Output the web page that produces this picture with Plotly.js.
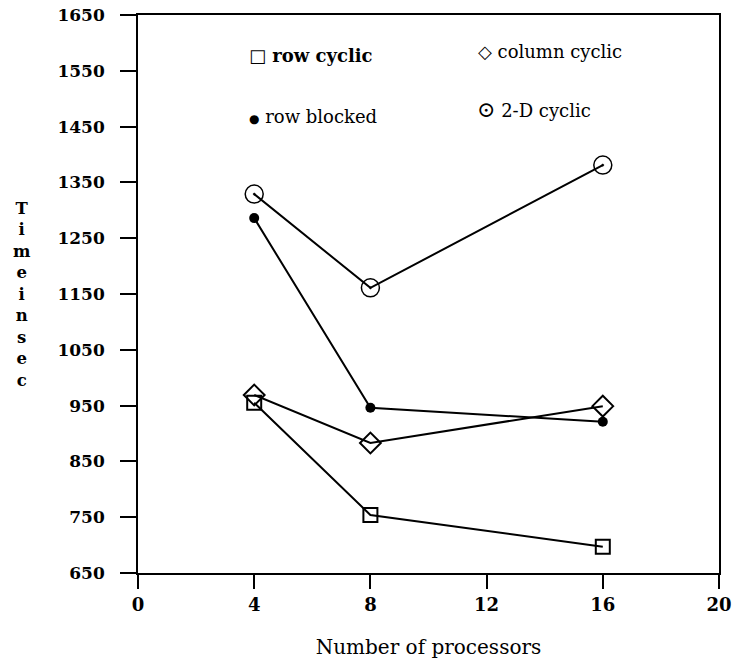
<!DOCTYPE html>
<html>
<head>
<meta charset="utf-8">
<script src="https://cdn.plot.ly/plotly-3.0.1.min.js"></script>
<style>html,body{margin:0;padding:0;background:#fff;}#chart{width:734px;height:661px;}</style>
</head>
<body>
<div id="chart"></div>
<script>
const processors = [4, 8, 16];
const rowCyclic = [955, 754, 697];
const columnCyclic = [969, 883, 949];
const rowBlocked = [1286, 946, 921];
const twoDCyclic = [1329, 1161, 1381];
const xTicks = [0, 4, 8, 12, 16, 20];
const yTicks = [650, 750, 850, 950, 1050, 1150, 1250, 1350, 1450, 1550, 1650];
const legendLabels = ['row cyclic', 'column cyclic', 'row blocked', '2-D cyclic'];

const serif = '"DejaVu Serif", "Liberation Serif", serif';
const lineStyle = {color: '#000', width: 2};

function tr(name, y, marker) {
  return {
    x: processors, y: y, name: name, mode: 'lines+markers', type: 'scatter',
    line: lineStyle, marker: marker, showlegend: false, cliponaxis: false
  };
}

const data = [
  tr(legendLabels[0], rowCyclic, {symbol: 'square-open', size: 14, color: '#000', line: {width: 2}}),
  tr(legendLabels[1], columnCyclic, {symbol: 'diamond-open', size: 16, color: '#000', line: {width: 2}}),
  tr(legendLabels[2], rowBlocked, {symbol: 'circle', size: 10, color: '#000'}),
  tr(legendLabels[3], twoDCyclic, {symbol: 'circle-open-dot', size: 18, color: '#000', line: {width: 1.5}})
];

const titleLetters = 'Time in sec'.replace(/ /g, '').split('').join('<br>');

const layout = {
  width: 734, height: 661,
  margin: {l: 138, r: 15, t: 15, b: 88},
  paper_bgcolor: '#fff', plot_bgcolor: '#fff',
  showlegend: false,
  xaxis: {
    range: [0, 20], tickvals: xTicks, ticktext: xTicks.map(String),
    showgrid: false, zeroline: false, showline: true, linecolor: '#000', linewidth: 2,
    mirror: true, ticks: 'outside', ticklen: 14, tickwidth: 2, tickcolor: '#000',
    tickfont: {family: serif, size: 18, color: '#000', weight: 'bold'},
    title: {text: 'Number of processors', font: {family: serif, size: 20, color: '#000'}, standoff: 26}
  },
  yaxis: {
    range: [650, 1650], tickvals: yTicks, ticktext: yTicks.map(v => v + '\u00a0\u00a0'),
    showgrid: false, zeroline: false, showline: true, linecolor: '#000', linewidth: 2,
    mirror: true, ticks: 'outside', ticklen: 16, tickwidth: 2, tickcolor: '#000',
    tickfont: {family: serif, size: 17, color: '#000', weight: 'bold'}
  },
  annotations: [
    {xref: 'paper', yref: 'paper', x: -0.2, y: 0.50, text: titleLetters, showarrow: false,
     xanchor: 'center', yanchor: 'middle', font: {family: serif, size: 16.5, color: '#000', weight: 'bold'}},
    {xref: 'x', yref: 'y', x: 3.75, y: 1578, text: '<b>□ ' + legendLabels[0] + '</b>', showarrow: false,
     xanchor: 'left', yanchor: 'middle', font: {family: serif, size: 18, color: '#000'}},
    {xref: 'x', yref: 'y', x: 11.65, y: 1585, text: '◇ ' + legendLabels[1], showarrow: false,
     xanchor: 'left', yanchor: 'middle', font: {family: serif, size: 18, color: '#000'}},
    {xref: 'x', yref: 'y', x: 3.75, y: 1468, text: '<span style="font-size:12px">●</span> ' + legendLabels[2], showarrow: false,
     xanchor: 'left', yanchor: 'middle', font: {family: serif, size: 18, color: '#000'}},
    {xref: 'x', yref: 'y', x: 11.6, y: 1480, text: '<span style="font-size:22px">⊙</span> ' + legendLabels[3], showarrow: false,
     xanchor: 'left', yanchor: 'middle', font: {family: serif, size: 18, color: '#000'}}
  ]
};

Plotly.newPlot('chart', data, layout, {displayModeBar: false, staticPlot: true});
</script>
</body>
</html>
